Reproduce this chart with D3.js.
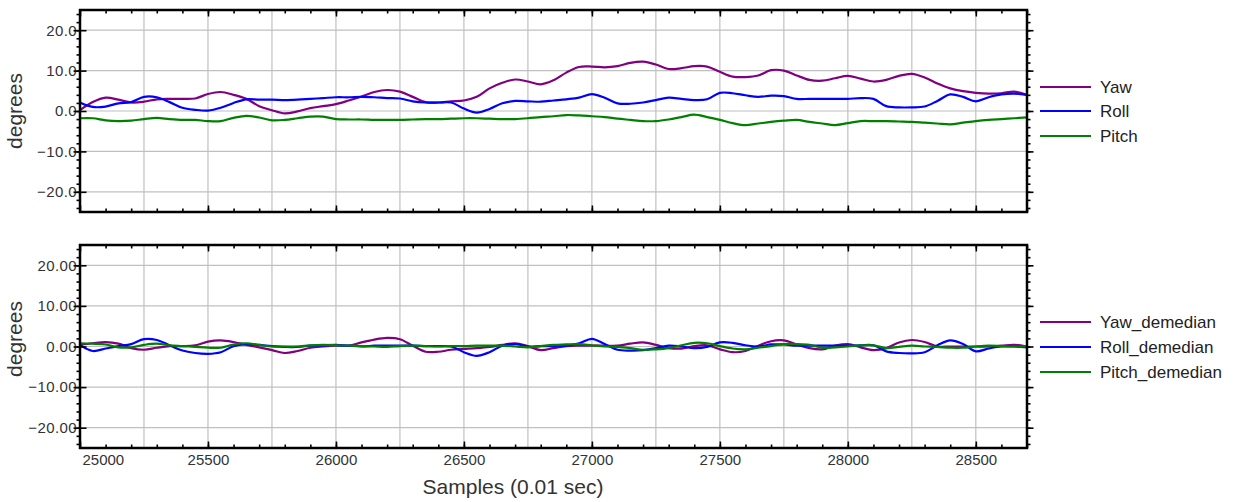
<!DOCTYPE html>
<html>
<head>
<meta charset="utf-8">
<script src="https://cdn.jsdelivr.net/npm/d3@7"></script>
<style>
  html, body { margin: 0; padding: 0; background: #ffffff; }
  svg { display: block; font-family: "Liberation Sans", Arial, sans-serif; }
</style>
</head>
<body>
<svg id="chart" width="1237" height="502"></svg>
<script>
// Sample index axis (0.01 s per sample), one reading every 50 samples
const samples = d3.range(25000, 28701, 50);

// Raw attitude angles (degrees)
const yaw = [0.2,2.2,3.3,2.8,2.1,2.3,2.9,3.0,3.0,3.1,
  4.2,4.7,4.0,3.0,1.2,0.2,-0.6,-0.1,0.7,1.2,
  1.7,2.6,3.6,4.7,5.2,4.8,3.5,2.2,2.1,2.4,
  2.6,3.5,5.6,7.0,7.8,7.3,6.6,7.6,9.5,10.9,
  11.0,10.8,11.1,11.9,12.2,11.5,10.4,10.6,11.1,11.0,
  9.7,8.5,8.4,8.8,10.1,10.0,8.8,7.7,7.5,8.1,
  8.7,8.0,7.3,7.7,8.7,9.2,8.3,6.8,5.6,4.9,
  4.5,4.3,4.4,4.8,4.0];
const roll = [2.1,1.0,1.1,1.9,2.2,3.5,3.4,2.2,0.8,0.3,
  0.1,0.8,2.0,2.9,2.8,2.8,2.7,2.8,3.0,3.2,
  3.4,3.4,3.5,3.4,3.2,3.1,2.4,2.1,2.1,2.1,
  0.6,-0.4,0.5,1.9,2.5,2.4,2.3,2.6,2.9,3.3,
  4.2,3.3,1.9,1.8,2.1,2.7,3.3,3.0,2.7,2.9,
  4.5,4.4,3.9,3.5,3.8,3.7,3.0,3.0,3.0,3.0,
  3.0,3.2,3.0,1.2,0.9,0.9,1.1,2.5,4.1,3.5,
  2.4,3.4,4.1,4.3,4.0];
const pitch = [-1.8,-1.8,-2.3,-2.5,-2.4,-2.0,-1.7,-2.0,-2.2,-2.2,
  -2.5,-2.5,-1.7,-1.2,-1.6,-2.3,-2.2,-1.8,-1.4,-1.4,
  -2.0,-2.1,-2.1,-2.2,-2.2,-2.2,-2.1,-2.0,-2.0,-1.9,
  -1.8,-1.8,-1.9,-2.0,-2.0,-1.8,-1.5,-1.3,-1.0,-1.1,
  -1.3,-1.5,-1.9,-2.2,-2.5,-2.5,-2.1,-1.5,-0.9,-1.5,
  -2.2,-3.0,-3.5,-3.1,-2.7,-2.4,-2.2,-2.7,-3.1,-3.5,
  -3.0,-2.5,-2.5,-2.5,-2.6,-2.7,-2.9,-3.1,-3.3,-2.9,
  -2.5,-2.2,-2.0,-1.8,-1.6];

// Same angles with the running median removed (degrees)
const yawDemedian = [0.4,0.8,1.1,0.7,-0.4,-0.8,-0.3,0.1,0.1,0.3,
  1.2,1.5,1.1,0.4,-0.2,-0.9,-1.6,-1.1,-0.3,0.0,
  0.2,0.2,1.0,1.7,2.1,1.8,0.2,-1.3,-1.3,-0.8,
  -0.6,-0.4,-0.1,0.4,0.8,0.1,-0.9,-0.4,0.1,0.2,
  0.2,0.2,0.2,0.7,1.0,0.4,-0.4,-0.5,0.1,0.3,
  -0.7,-1.4,-1.1,0.2,1.3,1.5,0.5,-0.4,-0.7,0.2,
  0.6,-0.2,-0.9,-0.4,1.0,1.6,1.1,0.0,0.0,0.0,
  0.0,0.0,0.2,0.4,0.0];
const rollDemedian = [0.4,-1.1,-0.5,0.1,0.6,1.8,1.6,0.3,-1.0,-1.6,
  -1.8,-1.4,0.1,0.6,0.4,0.1,-0.1,-0.1,0.2,0.3,
  0.4,0.2,0.0,0.2,0.2,0.2,0.2,0.1,0.1,0.0,
  -1.4,-2.3,-1.4,0.2,0.6,0.0,0.1,0.1,0.2,0.8,
  1.9,0.6,-0.8,-1.0,-0.9,-0.4,0.2,0.0,-0.4,-0.1,
  1.0,0.9,0.3,0.0,0.5,0.5,0.2,0.2,0.2,0.2,
  0.2,0.3,0.3,-1.2,-1.6,-1.7,-1.4,0.3,1.5,0.6,
  -1.2,-0.5,0.0,0.0,-0.2];
const pitchDemedian = [0.8,0.7,0.5,-0.2,-0.2,0.4,0.7,0.3,0.1,-0.1,
  -0.3,-0.3,0.5,0.8,0.4,0.0,0.0,0.0,0.3,0.4,
  0.3,0.2,0.1,0.0,-0.1,0.1,0.2,0.1,0.0,0.1,
  0.1,0.2,0.2,0.2,0.0,-0.2,0.1,0.4,0.5,0.6,
  0.3,0.0,-0.1,-0.4,-0.8,-0.7,-0.4,0.3,0.9,0.8,
  0.1,-0.5,-0.7,-0.3,0.1,0.6,0.6,0.4,-0.3,-0.2,
  0.0,0.3,0.3,-0.4,-0.1,0.2,0.0,-0.1,-0.3,-0.3,
  0.0,0.2,0.1,0.0,0.0];

// Axis ticks and grid positions
const xLabelTicks = [25000, 25500, 26000, 26500, 27000, 27500, 28000, 28500];
const xMinorTicks = d3.range(25100, 28701, 100);
const xGridLines = d3.range(25250, 28700, 250);
const yLabelTicks = [-20, -10, 0, 10, 20];
const yMinorTicks = d3.range(-24, 25, 2);
const topYFormat = d3.format(".1f");
const bottomYFormat = d3.format(".2f");

const seriesColors = { yaw: "#800080", roll: "#0000ff", pitch: "#008000" };

const svg = d3.select("#chart");
const x = d3.scaleLinear().domain([25000, 28700]).range([80, 1027]);

const panels = [
  {
    id: "raw", top: 10, bottom: 212, fmt: topYFormat, titleY: 111, xLabels: false,
    series: [
      { name: "Yaw", values: yaw, color: seriesColors.yaw },
      { name: "Roll", values: roll, color: seriesColors.roll },
      { name: "Pitch", values: pitch, color: seriesColors.pitch }
    ],
    legendY: [87, 111, 136]
  },
  {
    id: "demedian", top: 245, bottom: 448, fmt: bottomYFormat, titleY: 339, xLabels: true,
    series: [
      { name: "Yaw_demedian", values: yawDemedian, color: seriesColors.yaw },
      { name: "Roll_demedian", values: rollDemedian, color: seriesColors.roll },
      { name: "Pitch_demedian", values: pitchDemedian, color: seriesColors.pitch }
    ],
    legendY: [322, 347, 372]
  }
];

const x0 = x.range()[0], x1 = x.range()[1];

panels.forEach(p => {
  const y = d3.scaleLinear().domain([-25, 25]).range([p.bottom, p.top]);
  const g = svg.append("g");

  // grid
  g.append("g").selectAll("line").data(xGridLines).join("line")
    .attr("x1", d => x(d)).attr("x2", d => x(d))
    .attr("y1", p.top).attr("y2", p.bottom)
    .attr("stroke", "#c0c0c0").attr("stroke-width", 1.2);
  g.append("g").selectAll("line").data(yLabelTicks).join("line")
    .attr("x1", x0).attr("x2", x1)
    .attr("y1", d => y(d)).attr("y2", d => y(d))
    .attr("stroke", "#c0c0c0").attr("stroke-width", 1.2);

  // series, clipped to the plot box
  const clipId = "clip-" + p.id;
  svg.append("clipPath").attr("id", clipId).append("rect")
    .attr("x", x0).attr("y", p.top).attr("width", x1 - x0).attr("height", p.bottom - p.top);
  const line = d3.line()
    .x((d, i) => x(samples[i]))
    .y(d => y(d))
    .curve(d3.curveCatmullRom.alpha(0.5));
  g.append("g").attr("clip-path", `url(#${clipId})`)
    .selectAll("path").data(p.series).join("path")
    .attr("d", s => line(s.values))
    .attr("fill", "none")
    .attr("stroke", s => s.color)
    .attr("stroke-width", 2.2)
    .attr("stroke-linejoin", "round");

  // ticks on all four sides, pointing inward
  const addAxis = (axis, tx, ty) => {
    const a = g.append("g").attr("transform", `translate(${tx},${ty})`).call(axis);
    a.select(".domain").remove();
    a.selectAll(".tick line").attr("stroke", "#000").attr("stroke-width", 1.6);
    return a;
  };
  addAxis(d3.axisTop(x).tickValues(xMinorTicks).tickSize(-3.5).tickFormat(""), 0, p.top);
  addAxis(d3.axisTop(x).tickValues(xLabelTicks).tickSize(-6.5).tickFormat(""), 0, p.top);
  addAxis(d3.axisBottom(x).tickValues(xMinorTicks).tickSize(-3.5).tickFormat(""), 0, p.bottom);
  const xb = addAxis(d3.axisBottom(x).tickValues(xLabelTicks).tickSize(-6.5).tickPadding(6)
    .tickFormat(p.xLabels ? d3.format("d") : ""), 0, p.bottom);
  xb.selectAll("text").attr("font-size", 15).attr("fill", "#333").attr("font-family", null);
  if (p.xLabels) {
    xb.selectAll(".tick").filter(d => d === 25000).select("text")
      .attr("text-anchor", "start").attr("x", 2);
  }

  addAxis(d3.axisRight(y).tickValues(yMinorTicks).tickSize(-3.5).tickFormat(""), x0, 0);
  const yl = addAxis(d3.axisLeft(y).tickValues(yLabelTicks).tickSize(-6.5).tickPadding(3)
    .tickFormat(p.fmt), x0, 0);
  yl.selectAll("text").attr("font-size", 15).attr("fill", "#333").attr("font-family", null)
    .attr("letter-spacing", 0.4);
  addAxis(d3.axisLeft(y).tickValues(yMinorTicks).tickSize(-3.5).tickFormat(""), x1, 0);
  addAxis(d3.axisLeft(y).tickValues(yLabelTicks).tickSize(-6.5).tickFormat(""), x1, 0);
  addAxis(d3.axisRight(y).tickValues(yLabelTicks).tickSize(-6.5).tickFormat(""), x0, 0);

  // frame
  g.append("rect")
    .attr("x", x0).attr("y", p.top)
    .attr("width", x1 - x0).attr("height", p.bottom - p.top)
    .attr("fill", "none").attr("stroke", "#000").attr("stroke-width", 2.5);

  // y title
  g.append("text")
    .attr("transform", `translate(22,${p.titleY}) rotate(-90)`)
    .attr("text-anchor", "middle")
    .attr("font-size", 21).attr("fill", "#333")
    .text("degrees");

  // legend
  const lg = g.append("g").selectAll("g").data(p.series).join("g")
    .attr("transform", (s, i) => `translate(0,${p.legendY[i]})`);
  lg.append("line").attr("x1", 1040).attr("x2", 1091).attr("y1", 0).attr("y2", 0)
    .attr("stroke", s => s.color).attr("stroke-width", 2.2);
  lg.append("text").attr("x", 1100).attr("y", 6)
    .attr("font-size", 17).attr("fill", "#222")
    .text(s => s.name);
});

// x title
svg.append("text")
  .attr("x", 513).attr("y", 494)
  .attr("text-anchor", "middle")
  .attr("font-size", 21).attr("fill", "#333")
  .text("Samples (0.01 sec)");
</script>
</body>
</html>
